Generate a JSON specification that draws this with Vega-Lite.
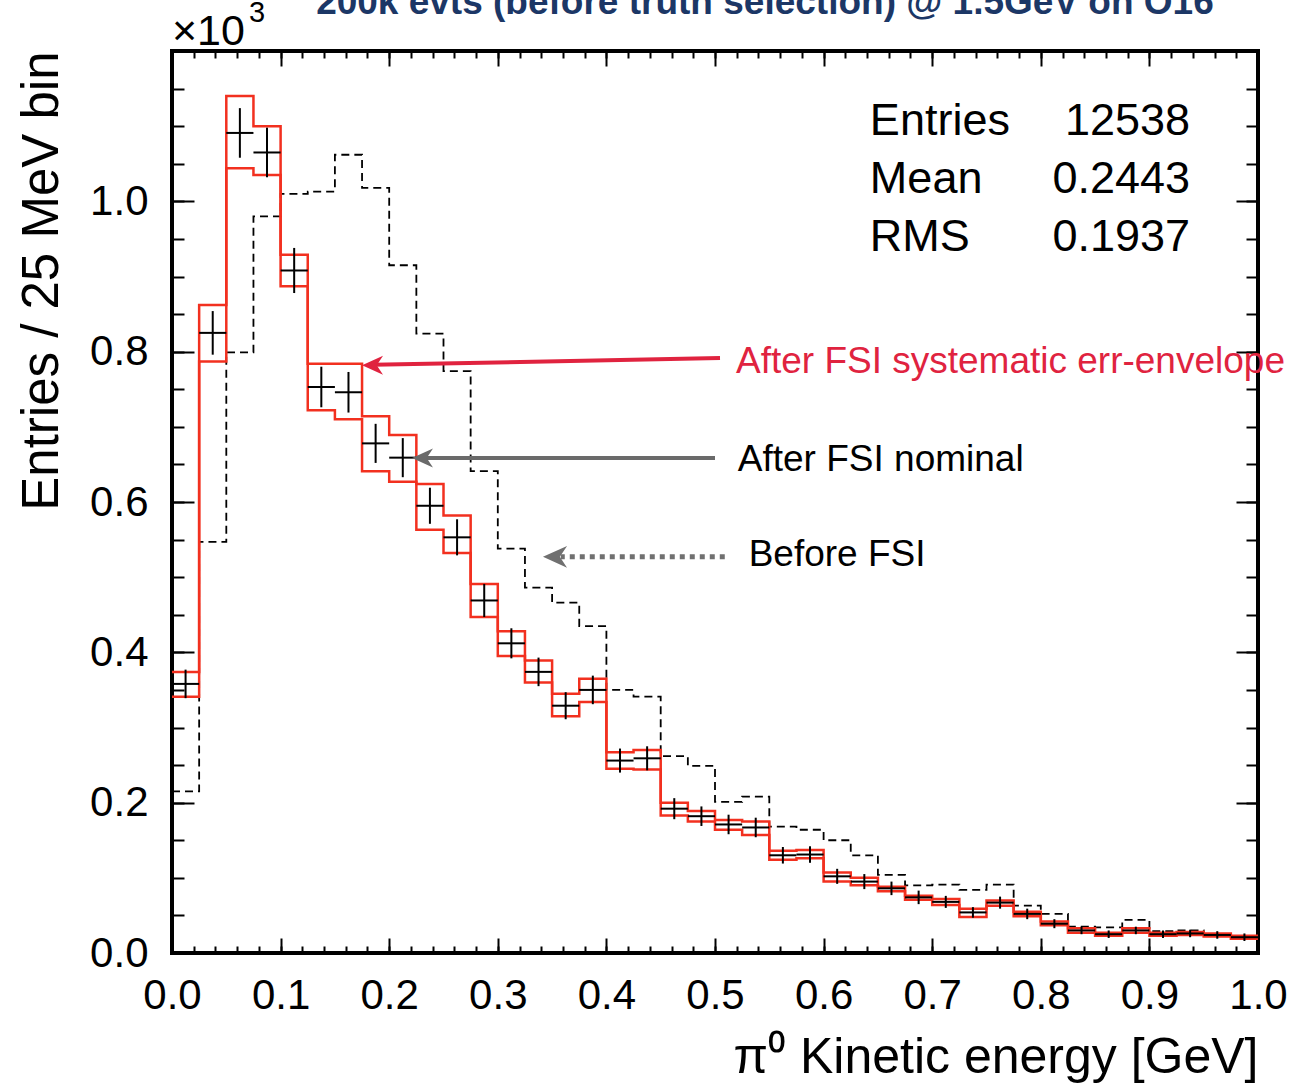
{
  "$schema": "https://vega.github.io/schema/vega-lite/v6.json",
  "width": 1086,
  "height": 902,
  "autosize": {"type": "none"},
  "padding": {"left": 172, "top": 51, "right": 33, "bottom": 130},
  "background": "white",
  "config": {
    "view": {"stroke": "black", "strokeWidth": 4},
    "axis": {"labelFont": "Liberation Sans", "titleFont": "Liberation Sans", "labelColor": "black", "titleColor": "black", "grid": false, "domain": false, "tickColor": "black", "tickWidth": 2, "labelFontWeight": "normal", "titleFontWeight": "normal"},
    "text": {"font": "Liberation Sans"}
  },
  "datasets": {
    "h": [
      {"lo":0,"hi":0.025,"c":0.0125,"nom":358,"elo":339,"ehi":377,"up":374,"dn":341,"bef":215},
      {"lo":0.025,"hi":0.05,"c":0.0375,"nom":825,"elo":796,"ehi":854,"up":862,"dn":787,"bef":547},
      {"lo":0.05,"hi":0.075,"c":0.0625,"nom":1091,"elo":1058,"ehi":1124,"up":1140,"dn":1044,"bef":799},
      {"lo":0.075,"hi":0.1,"c":0.0875,"nom":1065,"elo":1032,"ehi":1098,"up":1100,"dn":1035,"bef":980},
      {"lo":0.1,"hi":0.125,"c":0.1125,"nom":908,"elo":878,"ehi":938,"up":929,"dn":887,"bef":1010},
      {"lo":0.125,"hi":0.15,"c":0.1375,"nom":753,"elo":726,"ehi":780,"up":784,"dn":722,"bef":1013},
      {"lo":0.15,"hi":0.175,"c":0.1625,"nom":746,"elo":719,"ehi":773,"up":784,"dn":710,"bef":1062},
      {"lo":0.175,"hi":0.2,"c":0.1875,"nom":678,"elo":652,"ehi":704,"up":714,"dn":641,"bef":1018},
      {"lo":0.2,"hi":0.225,"c":0.2125,"nom":659,"elo":633,"ehi":685,"up":689,"dn":627,"bef":915},
      {"lo":0.225,"hi":0.25,"c":0.2375,"nom":595,"elo":571,"ehi":619,"up":624,"dn":563,"bef":824},
      {"lo":0.25,"hi":0.275,"c":0.2625,"nom":553,"elo":529,"ehi":577,"up":582,"dn":532,"bef":774},
      {"lo":0.275,"hi":0.3,"c":0.2875,"nom":469,"elo":447,"ehi":491,"up":491,"dn":447,"bef":641},
      {"lo":0.3,"hi":0.325,"c":0.3125,"nom":412,"elo":392,"ehi":432,"up":428,"dn":395,"bef":538},
      {"lo":0.325,"hi":0.35,"c":0.3375,"nom":374,"elo":355,"ehi":393,"up":389,"dn":360,"bef":486},
      {"lo":0.35,"hi":0.375,"c":0.3625,"nom":329,"elo":311,"ehi":347,"up":345,"dn":315,"bef":466},
      {"lo":0.375,"hi":0.4,"c":0.3875,"nom":350,"elo":331,"ehi":369,"up":365,"dn":334,"bef":435},
      {"lo":0.4,"hi":0.425,"c":0.4125,"nom":256,"elo":240,"ehi":272,"up":267,"dn":245,"bef":350},
      {"lo":0.425,"hi":0.45,"c":0.4375,"nom":259,"elo":243,"ehi":275,"up":270,"dn":244,"bef":341},
      {"lo":0.45,"hi":0.475,"c":0.4625,"nom":192,"elo":178,"ehi":206,"up":200,"dn":183,"bef":262},
      {"lo":0.475,"hi":0.5,"c":0.4875,"nom":182,"elo":169,"ehi":195,"up":189,"dn":175,"bef":249},
      {"lo":0.5,"hi":0.525,"c":0.5125,"nom":171,"elo":158,"ehi":184,"up":177,"dn":164,"bef":201},
      {"lo":0.525,"hi":0.55,"c":0.5375,"nom":167,"elo":154,"ehi":180,"up":175,"dn":157,"bef":208},
      {"lo":0.55,"hi":0.575,"c":0.5625,"nom":130,"elo":119,"ehi":141,"up":136,"dn":124,"bef":168},
      {"lo":0.575,"hi":0.6,"c":0.5875,"nom":131,"elo":120,"ehi":142,"up":137,"dn":126,"bef":164},
      {"lo":0.6,"hi":0.625,"c":0.6125,"nom":102,"elo":92,"ehi":112,"up":107,"dn":95,"bef":150},
      {"lo":0.625,"hi":0.65,"c":0.6375,"nom":95,"elo":85,"ehi":105,"up":100,"dn":90,"bef":130},
      {"lo":0.65,"hi":0.675,"c":0.6625,"nom":86,"elo":77,"ehi":95,"up":88,"dn":82,"bef":104},
      {"lo":0.675,"hi":0.7,"c":0.6875,"nom":74,"elo":65,"ehi":83,"up":76,"dn":71,"bef":90},
      {"lo":0.7,"hi":0.725,"c":0.7125,"nom":68,"elo":60,"ehi":76,"up":72,"dn":64,"bef":91},
      {"lo":0.725,"hi":0.75,"c":0.7375,"nom":54,"elo":47,"ehi":61,"up":59,"dn":48,"bef":84},
      {"lo":0.75,"hi":0.775,"c":0.7625,"nom":67,"elo":59,"ehi":75,"up":70,"dn":63,"bef":91},
      {"lo":0.775,"hi":0.8,"c":0.7875,"nom":52,"elo":45,"ehi":59,"up":55,"dn":49,"bef":63},
      {"lo":0.8,"hi":0.825,"c":0.8125,"nom":39,"elo":33,"ehi":45,"up":42,"dn":37,"bef":52},
      {"lo":0.825,"hi":0.85,"c":0.8375,"nom":30,"elo":25,"ehi":35,"up":33,"dn":27,"bef":35},
      {"lo":0.85,"hi":0.875,"c":0.8625,"nom":25,"elo":20,"ehi":30,"up":27,"dn":23,"bef":34},
      {"lo":0.875,"hi":0.9,"c":0.8875,"nom":30,"elo":25,"ehi":35,"up":33,"dn":27,"bef":44},
      {"lo":0.9,"hi":0.925,"c":0.9125,"nom":25,"elo":20,"ehi":30,"up":27,"dn":23,"bef":29},
      {"lo":0.925,"hi":0.95,"c":0.9375,"nom":26,"elo":21,"ehi":31,"up":28,"dn":24,"bef":30},
      {"lo":0.95,"hi":0.975,"c":0.9625,"nom":24,"elo":19,"ehi":29,"up":26,"dn":22,"bef":25},
      {"lo":0.975,"hi":1,"c":0.9875,"nom":21,"elo":16,"ehi":26,"up":23,"dn":19,"bef":21},
      {"lo":1,"up":23,"dn":19,"bef":21}
    ],
    "stats": [
      {"k":"Entries","v":"12538","y":1088},
      {"k":"Mean","v":"0.2443","y":1011},
      {"k":"RMS","v":"0.1937","y":934}
    ]
  },
  "layer": [
    {
      "data": {"name": "h"},
      "mark": {"type": "line", "interpolate": "step-after", "stroke": "black", "strokeWidth": 1.8, "strokeDash": [8, 5]},
      "encoding": {
        "x": {"field": "lo", "type": "quantitative", "scale": {"domain": [0, 1], "nice": false, "zero": false},
          "axis": {"orient": "bottom", "values": [0,0.1,0.2,0.3,0.4,0.5,0.6,0.7,0.8,0.9,1], "format": ".1f", "ticks": false, "labelFontSize": 42, "labelPadding": 22, "labelFlush": false, "labelOverlap": false,
            "title": "π⁰ Kinetic energy [GeV]", "titleFontSize": 50, "titleAnchor": "end", "titleAlign": "right", "titleBaseline": "alphabetic", "titleX": 1086, "titleY": 119}},
        "y": {"field": "bef", "type": "quantitative", "scale": {"domain": [0, 1200], "nice": false, "zero": false},
          "axis": {"orient": "left", "values": [0,200,400,600,800,1000], "labelExpr": "format(datum.value/1000, '.1f')", "ticks": false, "labelFontSize": 42, "labelPadding": 24, "labelFlush": false, "labelOverlap": false,
            "title": "Entries / 25 MeV bin", "titleFontSize": 51, "titleAnchor": "end", "titleAlign": "right", "titleAngle": -90, "titleBaseline": "alphabetic", "titleX": -115, "titleY": 0}}
      }
    },
    {
      "data": {"name": "h"},
      "mark": {"type": "line", "interpolate": "step-after", "stroke": "#f2301f", "strokeWidth": 2.5},
      "encoding": {
        "x": {"field": "lo", "type": "quantitative", "scale": {"domain": [0, 1], "nice": false, "zero": false},
          "axis": {"orient": "bottom", "values": [0,0.1,0.2,0.3,0.4,0.5,0.6,0.7,0.8,0.9,1], "labels": false, "ticks": true, "tickSize": -15, "title": null}},
        "y": {"field": "up", "type": "quantitative", "scale": {"domain": [0, 1200], "nice": false, "zero": false},
          "axis": {"orient": "left", "values": [0,200,400,600,800,1000,1200], "labels": false, "ticks": true, "tickSize": -22, "title": null}}
      }
    },
    {
      "data": {"name": "h"},
      "mark": {"type": "line", "interpolate": "step-after", "stroke": "#f2301f", "strokeWidth": 2.5},
      "encoding": {
        "x": {"field": "lo", "type": "quantitative", "scale": {"domain": [0, 1], "nice": false, "zero": false},
          "axis": {"orient": "bottom", "values": [0,0.02,0.04,0.06,0.08,0.1,0.12,0.14,0.16,0.18,0.2,0.22,0.24,0.26,0.28,0.3,0.32,0.34,0.36,0.38,0.4,0.42,0.44,0.46,0.48,0.5,0.52,0.54,0.56,0.58,0.6,0.62,0.64,0.66,0.68,0.7,0.72,0.74,0.76,0.78,0.8,0.82,0.84,0.86,0.88,0.9,0.92,0.94,0.96,0.98,1], "labels": false, "ticks": true, "tickSize": -7, "title": null}},
        "y": {"field": "dn", "type": "quantitative", "scale": {"domain": [0, 1200], "nice": false, "zero": false},
          "axis": {"orient": "left", "values": [0,50,100,150,200,250,300,350,400,450,500,550,600,650,700,750,800,850,900,950,1000,1050,1100,1150,1200], "labels": false, "ticks": true, "tickSize": -12, "title": null}}
      }
    },
    {
      "data": {"name": "h"},
      "transform": [{"filter": "isValid(datum.nom)"}],
      "mark": {"type": "rule", "stroke": "black", "strokeWidth": 2},
      "encoding": {
        "x": {"field": "lo", "type": "quantitative", "scale": {"domain": [0, 1], "nice": false, "zero": false},
          "axis": {"orient": "top", "values": [0,0.1,0.2,0.3,0.4,0.5,0.6,0.7,0.8,0.9,1], "labels": false, "ticks": true, "tickSize": -15, "title": null}},
        "x2": {"field": "hi"},
        "y": {"field": "nom", "type": "quantitative", "scale": {"domain": [0, 1200], "nice": false, "zero": false},
          "axis": {"orient": "right", "values": [0,200,400,600,800,1000,1200], "labels": false, "ticks": true, "tickSize": -22, "title": null}}
      }
    },
    {
      "data": {"name": "h"},
      "transform": [{"filter": "isValid(datum.nom)"}],
      "mark": {"type": "rule", "stroke": "black", "strokeWidth": 2},
      "encoding": {
        "x": {"field": "c", "type": "quantitative", "scale": {"domain": [0, 1], "nice": false, "zero": false},
          "axis": {"orient": "top", "values": [0,0.02,0.04,0.06,0.08,0.1,0.12,0.14,0.16,0.18,0.2,0.22,0.24,0.26,0.28,0.3,0.32,0.34,0.36,0.38,0.4,0.42,0.44,0.46,0.48,0.5,0.52,0.54,0.56,0.58,0.6,0.62,0.64,0.66,0.68,0.7,0.72,0.74,0.76,0.78,0.8,0.82,0.84,0.86,0.88,0.9,0.92,0.94,0.96,0.98,1], "labels": false, "ticks": true, "tickSize": -7, "title": null}},
        "y": {"field": "elo", "type": "quantitative", "scale": {"domain": [0, 1200], "nice": false, "zero": false},
          "axis": {"orient": "right", "values": [0,50,100,150,200,250,300,350,400,450,500,550,600,650,700,750,800,850,900,950,1000,1050,1100,1150,1200], "labels": false, "ticks": true, "tickSize": -12, "title": null}},
        "y2": {"field": "ehi"}
      }
    },
    {
      "data": {"values": [{"x": 0.5046, "x2": 0.185, "y": 791.5, "y2": 782.5}]},
      "mark": {"type": "rule", "stroke": "#e0233f", "strokeWidth": 4},
      "encoding": {
        "x": {"field": "x", "type": "quantitative", "axis": null, "scale": {"domain": [0, 1], "nice": false, "zero": false}},
        "x2": {"field": "x2"},
        "y": {"field": "y", "type": "quantitative", "axis": null, "scale": {"domain": [0, 1200], "nice": false, "zero": false}},
        "y2": {"field": "y2"}
      }
    },
    {
      "data": {"values": [{"x": 0.175, "y": 782}]},
      "mark": {"type": "point", "shape": "M0,0 L2,-0.9 L1.4,0 L2,0.9 Z", "size": 440, "filled": true, "fill": "#e0233f", "stroke": null, "opacity": 1},
      "encoding": {
        "x": {"field": "x", "type": "quantitative", "axis": null, "scale": {"domain": [0, 1], "nice": false, "zero": false}},
        "y": {"field": "y", "type": "quantitative", "axis": null, "scale": {"domain": [0, 1200], "nice": false, "zero": false}}
      }
    },
    {
      "data": {"values": [{"x": 0.5, "x2": 0.232, "y": 658.5}]},
      "mark": {"type": "rule", "stroke": "#6a6a6a", "strokeWidth": 4},
      "encoding": {
        "x": {"field": "x", "type": "quantitative", "axis": null, "scale": {"domain": [0, 1], "nice": false, "zero": false}},
        "x2": {"field": "x2"},
        "y": {"field": "y", "type": "quantitative", "axis": null, "scale": {"domain": [0, 1200], "nice": false, "zero": false}}
      }
    },
    {
      "data": {"values": [{"x": 0.221, "y": 658.5}]},
      "mark": {"type": "point", "shape": "M0,0 L2,-0.9 L1.4,0 L2,0.9 Z", "size": 440, "filled": true, "fill": "#6a6a6a", "stroke": null, "opacity": 1},
      "encoding": {
        "x": {"field": "x", "type": "quantitative", "axis": null, "scale": {"domain": [0, 1], "nice": false, "zero": false}},
        "y": {"field": "y", "type": "quantitative", "axis": null, "scale": {"domain": [0, 1200], "nice": false, "zero": false}}
      }
    },
    {
      "data": {"values": [{"x": 0.509, "x2": 0.358, "y": 527}]},
      "mark": {"type": "rule", "stroke": "#707070", "strokeWidth": 5, "strokeDash": [5, 5], "strokeCap": "butt"},
      "encoding": {
        "x": {"field": "x", "type": "quantitative", "axis": null, "scale": {"domain": [0, 1], "nice": false, "zero": false}},
        "x2": {"field": "x2"},
        "y": {"field": "y", "type": "quantitative", "axis": null, "scale": {"domain": [0, 1200], "nice": false, "zero": false}}
      }
    },
    {
      "data": {"values": [{"x": 0.3416, "y": 527}]},
      "mark": {"type": "point", "shape": "M0,0 L2,-0.9 L1.4,0 L2,0.9 Z", "size": 580, "filled": true, "fill": "#707070", "stroke": null, "opacity": 1},
      "encoding": {
        "x": {"field": "x", "type": "quantitative", "axis": null, "scale": {"domain": [0, 1], "nice": false, "zero": false}},
        "y": {"field": "y", "type": "quantitative", "axis": null, "scale": {"domain": [0, 1200], "nice": false, "zero": false}}
      }
    },
    {
      "data": {"values": [{"t": "After FSI systematic err-envelope", "x": 0.5193, "y": 771.6}]},
      "mark": {"type": "text", "align": "left", "baseline": "alphabetic", "fontSize": 37, "fill": "#e0233f"},
      "encoding": {
        "x": {"field": "x", "type": "quantitative", "axis": null, "scale": {"domain": [0, 1], "nice": false, "zero": false}},
        "y": {"field": "y", "type": "quantitative", "axis": null, "scale": {"domain": [0, 1200], "nice": false, "zero": false}},
        "text": {"field": "t"}
      }
    },
    {
      "data": {"values": [{"t": "After FSI nominal", "x": 0.521, "y": 641}, {"t": "Before FSI", "x": 0.531, "y": 515}]},
      "mark": {"type": "text", "align": "left", "baseline": "alphabetic", "fontSize": 37, "fill": "black"},
      "encoding": {
        "x": {"field": "x", "type": "quantitative", "axis": null, "scale": {"domain": [0, 1], "nice": false, "zero": false}},
        "y": {"field": "y", "type": "quantitative", "axis": null, "scale": {"domain": [0, 1200], "nice": false, "zero": false}},
        "text": {"field": "t"}
      }
    },
    {
      "data": {"name": "stats"},
      "mark": {"type": "text", "align": "left", "baseline": "alphabetic", "fontSize": 45, "fill": "black"},
      "encoding": {
        "x": {"datum": 0.6426, "type": "quantitative", "axis": null, "scale": {"domain": [0, 1], "nice": false, "zero": false}},
        "y": {"field": "y", "type": "quantitative", "axis": null, "scale": {"domain": [0, 1200], "nice": false, "zero": false}},
        "text": {"field": "k"}
      }
    },
    {
      "data": {"name": "stats"},
      "mark": {"type": "text", "align": "right", "baseline": "alphabetic", "fontSize": 45, "fill": "black"},
      "encoding": {
        "x": {"datum": 0.9375, "type": "quantitative", "axis": null, "scale": {"domain": [0, 1], "nice": false, "zero": false}},
        "y": {"field": "y", "type": "quantitative", "axis": null, "scale": {"domain": [0, 1200], "nice": false, "zero": false}},
        "text": {"field": "v"}
      }
    },
    {
      "data": {"values": [{"t": "200k evts (before truth selection) @ 1.5GeV on O16", "x": 0.546, "y": 1249}]},
      "mark": {"type": "text", "align": "center", "baseline": "alphabetic", "fontSize": 37, "fontWeight": "bold", "fill": "#1c3766"},
      "encoding": {
        "x": {"field": "x", "type": "quantitative", "axis": null, "scale": {"domain": [0, 1], "nice": false, "zero": false}},
        "y": {"field": "y", "type": "quantitative", "axis": null, "scale": {"domain": [0, 1200], "nice": false, "zero": false}},
        "text": {"field": "t"}
      }
    },
    {
      "data": {"values": [{"t": "×10", "x": 0, "y": 1208}]},
      "mark": {"type": "text", "align": "left", "baseline": "alphabetic", "fontSize": 43, "fill": "black"},
      "encoding": {
        "x": {"field": "x", "type": "quantitative", "axis": null, "scale": {"domain": [0, 1], "nice": false, "zero": false}},
        "y": {"field": "y", "type": "quantitative", "axis": null, "scale": {"domain": [0, 1200], "nice": false, "zero": false}},
        "text": {"field": "t"}
      }
    },
    {
      "data": {"values": [{"t": "3", "x": 0.071, "y": 1239}]},
      "mark": {"type": "text", "align": "left", "baseline": "alphabetic", "fontSize": 29, "fill": "black"},
      "encoding": {
        "x": {"field": "x", "type": "quantitative", "axis": null, "scale": {"domain": [0, 1], "nice": false, "zero": false}},
        "y": {"field": "y", "type": "quantitative", "axis": null, "scale": {"domain": [0, 1200], "nice": false, "zero": false}},
        "text": {"field": "t"}
      }
    }
  ],
  "resolve": {"axis": {"x": "independent", "y": "independent"}}
}
